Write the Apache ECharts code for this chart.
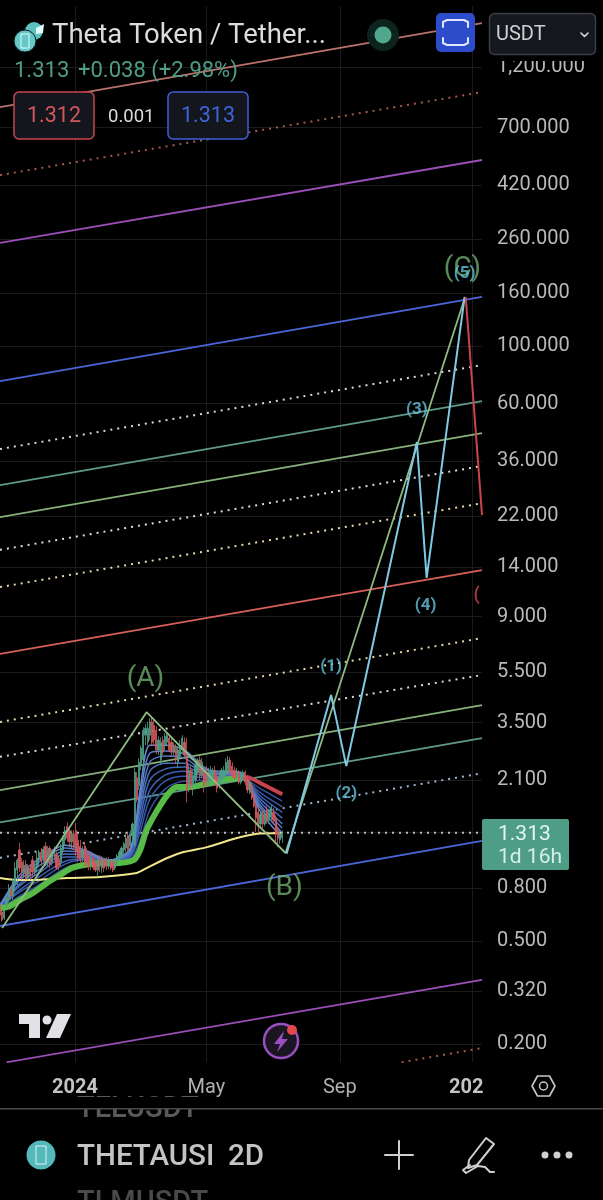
<!DOCTYPE html>
<html><head><meta charset="utf-8">
<style>html,body{margin:0;padding:0;background:#000}#c{width:603px;height:1200px}</style>
<script src="https://cdn.jsdelivr.net/npm/echarts@6/dist/echarts.min.js"></script>
</head><body><div id="c"></div>
<script>
const priceTicks=[1200,700,420,260,160,100,60,36,22,14,9,5.5,3.5,2.1,1.313,0.8,0.5,0.32,0.2];
const priceLabels=[1200,700,420,260,160,100,60,36,22,14,9,5.5,3.5,2.1,0.8,0.5,0.32,0.2];
const dateTicks=['2024-01-01','2024-05-01','2024-09-01','2025-01-01'];
const dateLabels=['2024','May','Sep','202'];
const xMin='2023-10-24', xMax='2025-01-10';
const lastPrice=1.313;

// channel lines: [name, price at left edge, price at right edge]
const salmon=[841,1777], dotRed=[459,961], purpleTop=[251,525], blueTop=[73.3,155], dotA=[40,84.5];
const tealTop=[29,61.3], greenTop=[21.8,46.1], dotB=[16.3,34.4], dotC=[11.7,24.7], redMid=[6.45,13.6];
const dotD=[3.52,7.43], dotE=[2.58,5.35], greenLow=[1.92,4.09], tealLow=[1.44,3.05], dotF=[1.05,2.23], blueLow=[0.572,1.22];
const purpleLow=[['2023-10-30',0.17],['2025-01-10',0.354]];
const dotRedLow=[['2024-10-28',0.17],['2025-01-10',0.193]];

// elliott waves
const abcWave=[['2023-10-26',0.562],['2024-03-07',3.84],['2024-07-13',1.096],['2024-12-25',153]];
const impulseWave=[['2024-07-14',1.09],['2024-08-24',4.48],['2024-09-07',2.38],['2024-11-11',42.6],['2024-11-20',12.7],['2024-12-25',155]];
const dropWave=[['2024-12-26',155],['2025-01-10',22.2]];
const abcLabels=[['2024-03-06',5.15,'(A)'],['2024-07-12',0.8,'(B)'],['2024-12-23',198,'(C)']];
const impulseLabels=[['2024-08-24',5.74,'(1)'],['2024-09-07',1.85,'(2)'],['2024-11-11',56.6,'(3)'],['2024-11-19',9.88,'(4)'],['2024-12-25',190,'(5)']];
const dropLabels=[['2025-01-05',10.9,'(']];

// moving averages
const slowDates=['2023-10-24','2023-11-02','2023-11-11','2023-11-23','2023-12-06','2023-12-18','2023-12-29','2024-01-08','2024-01-24','2024-02-05','2024-02-24','2024-03-01','2024-03-07','2024-03-17','2024-03-26','2024-04-04','2024-04-16','2024-05-02','2024-05-16','2024-06-01'];
const slowValues=[.671,.683,.721,.767,.838,.9,.958,.983,1.001,1.001,1.029,1.125,1.344,1.606,1.834,1.971,1.971,2.04,2.098,2.136];
const slowRedDates=['2024-06-01','2024-06-08','2024-06-22','2024-07-10'];
const slowRedValues=[2.136,2.154,2.021,1.85];
const longDates=['2023-10-24','2023-11-09','2023-11-23','2023-12-25','2024-01-24','2024-02-27','2024-03-07','2024-03-26','2024-04-10','2024-05-02','2024-05-26','2024-06-17','2024-07-10'];
const longValues=[.877,.861,.861,.877,.885,.917,.958,1.048,1.105,1.155,1.241,1.3,1.31];
const fanDates=['2023-10-24','2023-11-11','2023-11-30','2023-12-23','2024-01-10','2024-02-02','2024-02-21','2024-03-01','2024-03-10','2024-03-24','2024-04-11','2024-05-04','2024-06-01','2024-06-19','2024-07-10'];
const fan1=[.671,.747,.831,.958,1.001,1.001,1.038,1.219,1.606,1.936,2.079,2.098,2.154,1.953,1.74];
const fan2=[.677,.774,.861,.993,1.029,1.011,1.057,1.32,1.772,2.079,2.173,2.136,2.173,1.884,1.654];
const fan3=[.677,.788,.892,1.019,1.038,1.011,1.067,1.404,1.919,2.192,2.272,2.154,2.192,1.834,1.575];
const fan4=[.683,.816,.925,1.057,1.057,1.019,1.086,1.495,2.098,2.314,2.355,2.173,2.192,1.787,1.495];
const fan5=[.683,.831,.95,1.086,1.076,1.019,1.105,1.606,2.272,2.44,2.44,2.212,2.212,1.74,1.42];
const fan6=[.683,.861,.983,1.115,1.096,1.019,1.115,1.709,2.463,2.598,2.552,2.232,2.232,1.693,1.37];
const fan7=[.689,.877,1.019,1.145,1.105,1.029,1.135,1.803,2.667,2.716,2.644,2.272,2.232,1.654,1.31];
const fan8=[.689,.9,1.048,1.175,1.125,1.029,1.145,1.919,2.863,2.863,2.74,2.293,2.252,1.606,1.253];
const fanColors=['#2f4f9f','#3557a8','#3b60b2','#4268bb','#4a70c2','#5278c8','#5a80cc','#6488d0'];

// candles every two days from the left edge: open, close, low, high
const candleRows=[
[.689,.63,.603,.701],[.648,.603,.593,.659],[.614,.659,.603,.671],[.689,.734,.671,.747],[.721,.802,.708,.831],
[.788,.747,.721,.816],[.747,.861,.721,.877],[.846,.958,.774,1.011],[.941,1.029,.824,1.048],[1.125,.958,.925,1.2],
[1.011,.925,.861,1.048],[.925,.983,.877,1.029],[.993,.877,.861,1.029],[.877,.958,.861,.993],[.958,.892,.861,.993],
[1.029,.925,.877,1.067],[.925,.975,.892,1.011],[.958,1.048,.925,1.105],[1.029,1.105,.975,1.125],[1.105,1.029,.975,1.145],
[1.048,1.125,1.011,1.165],[1.165,1.011,.975,1.21],[1.011,1.125,.975,1.165],[1.145,.993,.958,1.165],[1.011,1.105,.975,1.125],
[1.086,1.125,1.029,1.165],[1.086,.958,.941,1.105],[1.029,.975,.941,1.067],[1.011,1.145,.975,1.19],[1.125,1.25,1.086,1.28],
[1.23,1.34,1.175,1.39],[1.39,1.25,1.21,1.44],[1.34,1.21,1.165,1.39],[1.21,1.3,1.145,1.34],[1.3,1.165,1.125,1.34],
[1.34,1.105,1.067,1.43],[1.23,1.048,1.011,1.3],[1.165,1.029,.993,1.23],[1.048,1.125,1.011,1.165],[1.165,1.011,.958,1.21],
[1.105,.993,.958,1.145],[1.067,.975,.941,1.105],[.975,1.048,.941,1.086],[1.048,.958,.941,1.086],[1.011,.941,.925,1.048],
[.941,1.011,.885,1.048],[1.048,.975,.925,1.076],[.958,1.029,.917,1.067],[1.029,.958,.925,1.048],[1.029,.975,.941,1.057],
[.975,1.029,.95,1.057],[1.011,.958,.941,1.029],[1.011,.941,.925,1.029],[.958,1.029,.941,1.048],[1.011,1.067,.975,1.086],
[1.048,1.105,1.029,1.125],[1.067,1.145,1.048,1.165],[1.125,1.19,1.086,1.21],[1.145,1.25,1.105,1.32],[1.28,1.125,1.105,1.32],
[1.165,1.3,1.105,1.34],[1.28,1.42,1.21,1.44],[1.175,2.25,1.165,2.34],[2.14,1.76,1.72,2.25],[2,2.46,1.92,2.55],
[2.4,2.79,2.29,2.86],[2.51,3.27,2.29,3.36],[3.13,3.33,2.86,3.45],[2.94,3.33,2.86,3.52],[3.13,3.52,2.995,3.64],
[3.52,2.94,2.86,3.71],[3.42,2.995,2.84,3.58],[3.27,2.74,2.64,3.39],[2.74,2.995,2.62,3.1],[2.51,2.94,2.4,3.07],
[2.995,2.69,2.62,3.1],[2.86,3.1,2.74,3.19],[2.94,3.13,2.84,3.22],[3.05,2.74,2.69,3.13],[2.94,2.69,2.6,3.05],
[2.69,2.84,2.6,2.94],[2.79,2.51,2.42,2.89],[2.46,2.74,2.34,2.84],[2.6,2.86,2.55,2.995],[2.74,3.05,2.64,3.13],
[2.94,2.62,2.55,3.07],[2.55,1.92,1.72,3.05],[2,2.29,1.88,2.4],[2.29,2,1.92,2.38],[2,2.19,1.83,2.29],
[2.1,2.4,2,2.46],[2.25,2.51,2.19,2.55],[2.51,2.19,2.1,2.6],[2.19,2.46,2.14,2.55],[2.25,2,1.88,2.34],
[2.29,2.06,1.99,2.38],[2.06,2.25,1.99,2.34],[2.1,2.29,2.02,2.38],[2.14,2.29,2.06,2.34],[2.29,2.06,1.99,2.38],
[2.17,1.95,1.88,2.25],[2,2.17,1.95,2.25],[2.1,2.29,2.02,2.34],[2.14,2.29,2.1,2.38],[2.21,2.46,2.17,2.55],
[2.25,2.51,2.21,2.6],[2.51,2.25,2.21,2.575],[2.38,2.17,2.14,2.46],[2.29,2.14,2.1,2.36],[2.14,2.25,2.1,2.34],
[2.25,2.06,2.02,2.29],[2.06,2.21,2.02,2.27],[2.14,2.25,2.1,2.29],[2.25,2.06,2,2.29],[2.1,1.92,1.87,2.19],
[1.88,2.06,1.85,2.1],[2,1.79,1.76,2.06],[1.82,1.665,1.64,1.87],[1.68,1.495,1.32,1.72],[1.575,1.39,1.32,1.64],
[1.42,1.55,1.39,1.59],[1.55,1.42,1.37,1.61],[1.42,1.55,1.39,1.59],[1.61,1.47,1.42,1.665],[1.47,1.575,1.42,1.625],
[1.52,1.64,1.47,1.68],[1.575,1.47,1.42,1.64],[1.495,1.29,1.2,1.535],[1.34,1.25,1.155,1.39],[1.23,1.3,1.19,1.34],
[1.275,1.313,1.2,1.34]];

const C={gridLine:'#1b1b1b',text:'#b9b9b9',up:'#4e9e87',down:'#d4565c',green:'#7ab37a',cyan:'#62c2de',waveCyan:'#7fc9e2'};
const iso=d=>Date.parse(d+'T00:00:00Z');
const candleData=candleRows.map((r,i)=>[iso(xMin)+i*2*864e5,r[0],r[1],r[2],r[3]]);
const ms=rows=>rows.map(r=>[iso(r[0])].concat(r.slice(1)));

function edge(pair){return [[xMin,pair[0]],[xMax,pair[1]]];}
function line(data,color,width,opts){
  return Object.assign({type:'line',data:ms(data),symbol:'none',silent:true,animation:false,
    lineStyle:{color:color,width:width,type:'solid'},z:2},opts||{});
}
function dots(data,color){return line(data,color,2,{lineStyle:{color:color,width:2,type:[2,5]}});}
function zip(a,b){return a.map((d,i)=>[d,b[i]]);}
function labels(rows,color,size,weight){
  return {type:'scatter',data:ms(rows),symbolSize:0,silent:true,animation:false,z:9,
    label:{show:true,position:'inside',formatter:p=>p.value[2],color:color,fontSize:size,fontWeight:weight,fontFamily:'Roboto'}};
}
const series=[
 line(edge(salmon),'#b9736c',1.8),
 dots(edge(dotRed),'#a8574d'),
 line(edge(purpleTop),'#9c4fb8',1.8),
 line(edge(blueTop),'#4a66d8',1.8),
 dots(edge(dotA),'#d8d8d8'),
 line(edge(tealTop),'#5f9a88',1.8),
 line(edge(greenTop),'#86b07a',1.8),
 dots(edge(dotB),'#dcdcd0'),
 dots(edge(dotC),'#e6d8a8'),
 line(edge(redMid),'#d8605a',1.8),
 dots(edge(dotD),'#e8d8a8'),
 dots(edge(dotE),'#d8d8d8'),
 line(edge(greenLow),'#86b07a',1.8),
 line(edge(tealLow),'#5f9a88',1.8),
 dots(edge(dotF),'#9fb6cf'),
 line(edge(blueLow),'#4a66d8',1.8),
 line(purpleLow,'#9c4fb8',1.8),
 dots(dotRedLow,'#a8574d'),
 dots(edge([lastPrice,lastPrice]),'#bdbdbd'),
];
[fan1,fan2,fan3,fan4,fan5,fan6,fan7,fan8].forEach((v,i)=>{
  series.push(line(zip(fanDates,v),fanColors[i],1.5,{smooth:0.3,z:3}));
});
series.push(line(zip(longDates,longValues),'#f2e68c',2,{smooth:0.2,z:4}));
series.push(line(zip(slowDates,slowValues),'#58bb46',6,{smooth:0.3,z:4}));
series.push(line(zip(slowRedDates,slowRedValues),'#c9434e',4,{smooth:0.2,z:4}));
series.push({type:'candlestick',data:candleData,barWidth:1.7,silent:true,animation:false,z:5,
  encode:{x:0,y:[1,2,3,4]},
  itemStyle:{color:C.up,color0:C.down,borderColor:C.up,borderColor0:C.down,borderWidth:0.8}});
series.push(line(abcWave,'#8fbb83',1.8,{z:7}));
series.push(line(impulseWave,C.waveCyan,2,{z:8}));
series.push(line(dropWave,'#c8454c',2,{z:8}));
series.push(labels(abcLabels,'#6fae6f',28,'normal'));
series.push(labels(impulseLabels,C.cyan,17,'bold'));
series.push(labels(dropLabels,'#c8454c',18,'bold'));

const fmtPrice=v=>{const s=Number(v).toFixed(3).split('.');return s[0].replace(/\B(?=(\d{3})+$)/g,',')+'.'+s[1];};
const xMs=dateTicks.map(iso);
const g=[];
function text(x,y,s,size,color,o){g.push({type:'text',z:100,silent:true,style:Object.assign({x:x,y:y,text:s,fontSize:size,fill:color,fontFamily:'Roboto',verticalAlign:'middle'},o||{})});}
function rect(x,y,w,h,fill,o){g.push({type:'rect',z:(o&&o.z)||100,silent:true,shape:{x:x,y:y,width:w,height:h,r:(o&&o.r)||0},style:{fill:fill,stroke:(o&&o.stroke)||null,lineWidth:(o&&o.lw)||1}});}
function circle(x,y,r,fill,o){g.push({type:'circle',z:100,silent:true,shape:{cx:x,cy:y,r:r},style:{fill:fill,stroke:(o&&o.stroke)||null,lineWidth:(o&&o.lw)||1}});}
function poly(pts,fill,stroke,lw,closed){g.push({type:closed===false?'polyline':'polygon',z:100,silent:true,shape:{points:pts},style:{fill:fill||null,stroke:stroke||null,lineWidth:lw||1,lineCap:'round',lineJoin:'round'}});}

// covers right of plot top (price label clipped by the toolbar)
rect(483,0,120,61,'#000');
// header
circle(34,31,9,'#5fc2c0'); poly([[36,28],[44,24],[43,33],[36,34]],'#dff');
circle(25,41,11,'#63c8c8',{stroke:'#0a1a1a',lw:1}); rect(21,34,8,14,null,{stroke:'#e6fbfb',lw:1});
text(52,36,'Theta Token / Tether...',27.5,'#dcdcdc');
text(14,71,'1.313',22,'#4e9e87');
text(78,71,'+0.038 (+2.98%)',22,'#4e9e87');
rect(14,92,80,47,'#14161e',{r:5,stroke:'#c9474f',lw:1.5});
text(54,117,'1.312',21.5,'#d4565c',{align:'center'});
text(108,117,'0.001',18.5,'#dcdcdc');
rect(168,92,80,47,'#14161e',{r:5,stroke:'#3f5fd6',lw:1.5});
text(208,117,'1.313',21.5,'#3f63d8',{align:'center'});
circle(383,35,16,'#0c241d'); circle(383,35,8.5,'#4fa88c');
rect(436,13,39,39,'#2d4ccb',{r:5});
poly([[443,27],[443,22],[447,20],[464,20],[468,22],[468,27]],null,'#dfe6ff',2,false);
poly([[443,38],[443,43],[447,45],[464,45],[468,43],[468,38]],null,'#dfe6ff',2,false);
rect(489.5,13.5,106,41,'#16181f',{r:5,stroke:'#3b3e47',lw:1.5});
text(496,35,'USDT',20,'#d0d0d0');
poly([[581,33],[584.5,36.5],[588,33]],null,'#d8d8d8',1.6,false);
// TradingView mark
poly([[19,1014],[40,1014],[40,1038],[29,1038],[29,1024],[19,1024]],'#dfe1e6');
circle(47,1020,4.5,'#dfe1e6');
poly([[57,1014],[71,1014],[60,1038],[46,1038]],'#dfe1e6');
// bolt icon
circle(281,1041,17,'#191621',{stroke:'#9a4fc0',lw:2.5});
poly([[284,1031],[274,1044],[280,1044],[277,1052],[288,1039],[282,1039]],'#9a4fc0');
circle(292,1030,5,'#e2484e');
// price tag
rect(482,819,87,51,'#4e9e87',{r:2});
text(498,835,'1.313',21,'#e6f5f0');
text(498,858,'1d 16h',21,'#d8efe8');
// gear
poly([[532,1086],[537.5,1076],[549.5,1076],[555,1086],[549.5,1096],[537.5,1096]],null,'#c8c8c8',1.6);
circle(543.5,1086,4,null,{stroke:'#c8c8c8',lw:1.5});
// bottom bar
text(77,1110,'TELUSDT',29,'#5a5a5a',{fontWeight:500});
rect(0,1097,603,11,'#000');
rect(0,1108,603,1.4,'#4a4a4a');
text(77,1204,'TLMUSDT',29,'#4a4a4a',{fontWeight:500});
circle(41,1155,14.5,'#55b9bb');
rect(36,1146,10,18,null,{stroke:'#d8f5f5',lw:1});
text(77,1158,'THETAUSI',29.5,'#c4c4c4',{fontWeight:500});
text(228,1158,'2D',29.5,'#c4c4c4',{fontWeight:500});
poly([[385,1155],[413,1155]],null,'#d0d0d0',2,false);
poly([[399,1141],[399,1169]],null,'#d0d0d0',2,false);
poly([[486,1138],[494,1144],[477,1165],[468,1168],[469,1160]],null,'#d0d0d0',2);
poly([[470,1165],[463,1170],[466,1173],[478,1166],[485,1167],[490,1172],[494,1172]],null,'#d0d0d0',2,false);
circle(545,1155,3.5,'#d0d0d0'); circle(557,1155,3.5,'#d0d0d0'); circle(569,1155,3.5,'#d0d0d0');

const chart=echarts.init(document.getElementById('c'),null,{renderer:'canvas'});
chart.setOption({
  backgroundColor:'#000',animation:false,
  grid:{left:0,right:121,top:6,bottom:138,containLabel:false},
  xAxis:{type:'value',min:iso(xMin),max:iso(xMax),
    axisLine:{show:false},
    axisTick:{show:false,customValues:xMs},
    splitLine:{show:true,lineStyle:{color:C.gridLine,width:1}},
    axisLabel:{show:true,customValues:xMs,margin:16,hideOverlap:false,
      formatter:v=>{const i=xMs.indexOf(v);const s=dateLabels[i];
        return (i===0)?'{b|'+s+'}':(i===3)?'{c|'+s+'}':'{n|'+s+'}';},
      rich:{b:{fontWeight:'bold',fontSize:20,color:'#c4c4c4',fontFamily:'Roboto'},
            c:{fontWeight:'bold',fontSize:20,color:'#c4c4c4',fontFamily:'Roboto',padding:[0,12,0,0]},
            n:{fontSize:20,color:'#b0b0b0',fontFamily:'Roboto'}}}},
  yAxis:{type:'log',logBase:10,min:0.1704,max:2069,position:'right',
    axisLine:{show:false},
    axisTick:{show:false,customValues:priceTicks},
    splitLine:{show:true,lineStyle:{color:C.gridLine,width:1}},
    axisLabel:{show:true,customValues:priceLabels,margin:15,hideOverlap:false,padding:[3,0,0,0],
      formatter:v=>fmtPrice(v),color:C.text,fontSize:20,fontFamily:'Roboto',align:'left'}},
  series:series,
  graphic:{elements:g}
});
</script></body></html>
